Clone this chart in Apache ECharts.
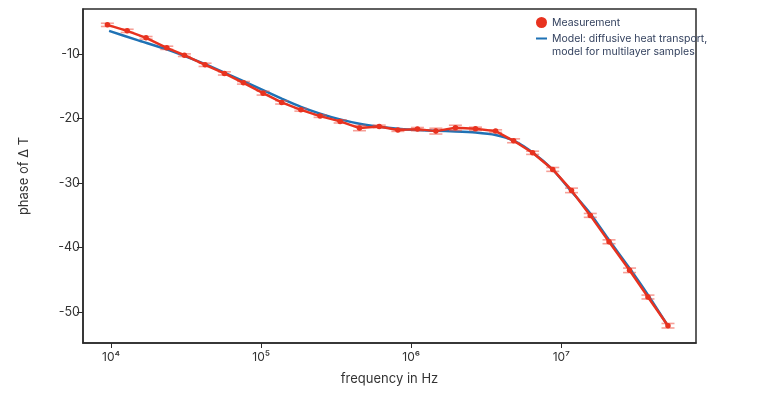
<!DOCTYPE html>
<html lang="en" style="height: 100%">
<head>
  <meta charset="UTF-8" />
  <title>Phase of ΔT vs frequency</title>
  <script src="https://cdn.jsdelivr.net/npm/echarts@6/dist/echarts.min.js"></script>
  <style>
    html, body {
      height: 100%;
      margin: 0;
      background-color: #fff;
    }
    #chart {
      width: 100%;
      height: 100%;
    }
  </style>
</head>
<body>
  <div id="chart"></div>

  <script>
    // measured points (frequency in Hz, phase in degrees, error half-width)
    const measFreq = [9.45e3, 1.28e4, 1.71e4, 2.35e4, 3.08e4, 4.23e4, 5.69e4, 7.62e4,
      1.03e5, 1.37e5, 1.84e5, 2.47e5, 3.36e5, 4.52e5, 6.12e5, 8.15e5,
      1.10e6, 1.46e6, 1.97e6, 2.68e6, 3.65e6, 4.81e6, 6.44e6, 8.77e6,
      1.17e7, 1.56e7, 2.08e7, 2.85e7, 3.78e7, 5.14e7];
    const measPhase = [-5.46, -6.39, -7.47, -9.02, -10.16, -11.66, -12.99, -14.45,
      -16.05, -17.49, -18.64, -19.61, -20.43, -21.47, -21.21, -21.78,
      -21.63, -21.94, -21.43, -21.58, -21.94, -23.44, -25.30, -27.88,
      -31.13, -35.01, -39.10, -43.53, -47.67, -52.12];
    const measErr = [0.25, 0.25, 0.2, 0.25, 0.2, 0.25, 0.25, 0.2,
      0.3, 0.25, 0.2, 0.2, 0.25, 0.4, 0.2, 0.2,
      0.25, 0.45, 0.4, 0.25, 0.2, 0.3, 0.25, 0.3,
      0.35, 0.3, 0.3, 0.35, 0.3, 0.35];

    // model curve
    const modelFreq = [9.7e3, 1.50e4, 2.35e4, 3.16e4, 4.23e4, 5.67e4, 7.62e4, 1.03e5,
      1.37e5, 1.84e5, 2.47e5, 3.36e5, 4.52e5, 6.12e5, 8.15e5, 1.10e6,
      1.46e6, 1.97e6, 2.68e6, 3.65e6, 4.81e6, 6.44e6, 8.81e6, 1.17e7,
      1.56e7, 2.08e7, 2.85e7, 3.78e7, 5.14e7];
    const modelPhase = [-6.39, -7.83, -9.27, -10.39, -11.55, -12.87, -14.19, -15.58,
      -16.90, -18.17, -19.22, -20.12, -20.79, -21.26, -21.57, -21.78,
      -21.90, -21.98, -22.14, -22.53, -23.41, -25.25, -27.95, -31.30,
      -34.70, -38.84, -43.22, -47.36, -52.17];

    const yTicks = [-50, -40, -30, -20, -10];
    const xTicks = [1e4, 1e5, 1e6, 1e7];

    const measName = 'Measurement';
    const modelName = 'Model: diffusive heat transport,\nmodel for multilayer samples';

    const red = '#e8321f';
    const blue = '#1f72b5';
    const sup = { 4: '⁴', 5: '⁵', 6: '⁶', 7: '⁷' };

    const chart = echarts.init(document.getElementById('chart'));

    chart.setOption({
      animation: false,
      textStyle: { fontFamily: 'Inter' },
      grid: {
        left: 83, right: 72, top: 9, bottom: 76,
        show: true,
        borderColor: '#2b2b2b',
        borderWidth: 1.5
      },
      legend: {
        orient: 'vertical',
        left: 531,
        top: 11,
        itemWidth: 11,
        itemHeight: 11,
        itemGap: -10,
        textStyle: { color: '#34425f', fontSize: 10.5, lineHeight: 13 },
        formatter: name => name === modelName ? '\n' + name : name,
        data: [
          { name: measName, icon: 'circle' },
          { name: modelName, icon: 'path://M0 0H12V2.2H0Z' }
        ]
      },
      xAxis: {
        type: 'log',
        min: 6500,
        max: 7.9e7,
        name: 'frequency in Hz',
        nameLocation: 'middle',
        nameGap: 30,
        nameTextStyle: { color: '#333', fontSize: 13 },
        axisLine: { lineStyle: { color: '#2b2b2b', width: 1.5 } },
        axisTick: { length: 5, customValues: xTicks, lineStyle: { color: '#2b2b2b' } },
        axisLabel: {
          customValues: xTicks,
          color: '#333',
          fontSize: 12,
          margin: 8,
          formatter: v => '10' + sup[Math.round(Math.log10(v))]
        },
        minorTick: { show: false },
        splitLine: { show: false }
      },
      yAxis: {
        type: 'value',
        min: -54.8,
        max: -3,
        name: 'phase of Δ T',
        nameLocation: 'middle',
        nameGap: 52,
        nameTextStyle: { color: '#333', fontSize: 13 },
        axisLine: { show: true, lineStyle: { color: '#2b2b2b', width: 1.5 } },
        axisTick: { show: true, length: 6, customValues: yTicks, lineStyle: { color: '#2b2b2b' } },
        axisLabel: { customValues: yTicks, color: '#333', fontSize: 12.5, margin: 3 },
        splitLine: { show: false }
      },
      series: [
        {
          name: modelName,
          type: 'line',
          data: modelFreq.map((f, i) => [f, modelPhase[i]]),
          smooth: 0.2,
          showSymbol: false,
          symbol: 'none',
          color: blue,
          lineStyle: { color: blue, width: 2.5 },
          z: 2
        },
        {
          name: 'errors',
          type: 'custom',
          data: measFreq.map((f, i) => [f, measPhase[i], measErr[i]]),
          renderItem: (params, api) => {
            const x = api.value(0);
            const y = api.value(1);
            const e = api.value(2);
            const hi = api.coord([x, y + e]);
            const lo = api.coord([x, y - e]);
            const w = 6.5;
            const style = { stroke: 'rgba(238,80,66,0.55)', lineWidth: 1.6 };
            return {
              type: 'group',
              children: [
                { type: 'line', shape: { x1: hi[0], y1: hi[1], x2: lo[0], y2: lo[1] }, style },
                { type: 'line', shape: { x1: hi[0] - w, y1: hi[1], x2: hi[0] + w, y2: hi[1] }, style },
                { type: 'line', shape: { x1: lo[0] - w, y1: lo[1], x2: lo[0] + w, y2: lo[1] }, style }
              ]
            };
          },
          z: 3
        },
        {
          name: measName,
          type: 'line',
          data: measFreq.map((f, i) => [f, measPhase[i]]),
          symbol: 'circle',
          symbolSize: 5.5,
          showSymbol: true,
          color: red,
          itemStyle: { color: red },
          lineStyle: { color: red, width: 2.5 },
          z: 4
        }
      ]
    });
  </script>
</body>
</html>
